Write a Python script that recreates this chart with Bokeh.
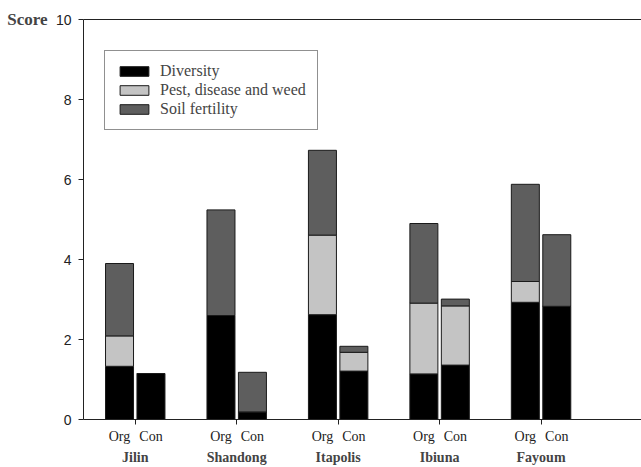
from bokeh.plotting import figure
from bokeh.models import (Range1d, LinearAxis, FixedTicker, CustomJSTickFormatter,
                          Legend, LegendItem, ColumnDataSource)
from bokeh.transform import dodge
from bokeh.embed import file_html
from bokeh.resources import INLINE

sites = ["Jilin", "Shandong", "Itapolis", "Ibiuna", "Fayoum"]
positions = [1, 2, 3, 4, 5]
components = ["Diversity", "Pest, disease and weed", "Soil fertility"]

org_diversity = [1.33, 2.60, 2.62, 1.14, 2.93]
org_pest = [0.76, 0.00, 1.99, 1.77, 0.52]
org_soil = [1.81, 2.64, 2.12, 1.99, 2.43]

con_diversity = [1.15, 0.19, 1.21, 1.36, 2.83]
con_pest = [0.00, 0.00, 0.47, 1.48, 0.00]
con_soil = [0.00, 0.99, 0.15, 0.17, 1.79]

y_ticks = [0, 2, 4, 6, 8, 10]

colors = ["#000000", "#c4c4c4", "#5e5e5e"]
SERIF = "Liberation Serif"
SANS = "Liberation Sans"

OFF = 0.155
BAR_W = 0.276

src_org = ColumnDataSource(dict(pos=positions, d=org_diversity, p=org_pest, s=org_soil))
src_con = ColumnDataSource(dict(pos=positions, d=con_diversity, p=con_pest, s=con_soil))

p = figure(width=641, height=467,
           x_range=Range1d(0.49, 5.99), y_range=Range1d(0, 10),
           output_backend="svg", toolbar_location=None,
           x_axis_location=None, y_axis_location=None,
           min_border_left=83, min_border_right=0, min_border_top=19, min_border_bottom=47)
p.xgrid.visible = False
p.ygrid.visible = False
p.outline_line_color = None
p.background_fill_color = "white"

org_r = p.vbar_stack(["d", "p", "s"], x=dodge("pos", -OFF), width=BAR_W, source=src_org,
                     color=colors, line_color="#1a1a1a", line_width=1)
con_r = p.vbar_stack(["d", "p", "s"], x=dodge("pos", OFF), width=BAR_W, source=src_con,
                     color=colors, line_color="#1a1a1a", line_width=1)

# y axis
yax = LinearAxis(ticker=FixedTicker(ticks=y_ticks))
yax.major_tick_out = 5
yax.major_tick_in = 0
yax.minor_tick_line_color = None
yax.axis_line_color = "#222222"
yax.major_tick_line_color = "#222222"
yax.major_label_text_font = SANS
yax.major_label_text_font_size = "14px"
yax.major_label_text_color = "#222222"
yax.major_label_standoff = 7
yax.axis_label_standoff = 0
p.add_layout(yax, "left")

score = LinearAxis(ticker=FixedTicker(ticks=[10]),
                   formatter=CustomJSTickFormatter(code="return 'Score';"))
score.axis_line_color = None
score.major_tick_line_color = None
score.minor_tick_line_color = None
score.major_tick_out = 0
score.major_tick_in = 0
score.major_label_text_font = SERIF
score.major_label_text_font_style = "bold"
score.major_label_text_font_size = "17px"
score.major_label_standoff = 5
score.axis_label_standoff = 0
p.add_layout(score, "left")

# top line
top = LinearAxis(ticker=FixedTicker(ticks=[]))
top.axis_line_color = "#222222"
top.major_tick_line_color = None
top.minor_tick_line_color = None
top.major_tick_out = 0
top.major_tick_in = 0
top.major_label_text_font_size = "0px"
top.axis_label_standoff = 0
p.add_layout(top, "above")

# bottom axis: Org / Con
sub_ticks = [x - OFF for x in positions] + [x + OFF for x in positions]
xax = LinearAxis(ticker=FixedTicker(ticks=sub_ticks, minor_ticks=positions),
                 formatter=CustomJSTickFormatter(
                     code="return (tick - Math.floor(tick)) > 0.5 ? 'Org' : 'Con';"))
xax.axis_line_color = "#222222"
xax.major_tick_line_color = None
xax.major_tick_out = 0
xax.major_tick_in = 0
xax.minor_tick_line_color = "#222222"
xax.minor_tick_out = 5
xax.minor_tick_in = 0
xax.major_label_text_font = SERIF
xax.major_label_text_font_size = "14px"
xax.major_label_text_color = "#222222"
xax.major_label_standoff = 4
xax.axis_label_standoff = 0
p.add_layout(xax, "below")

names = LinearAxis(ticker=FixedTicker(ticks=positions),
                   formatter=CustomJSTickFormatter(args=dict(names=sites),
                                                   code="return names[Math.round(tick) - 1];"))
names.axis_line_color = None
names.major_tick_line_color = None
names.minor_tick_line_color = None
names.major_tick_out = 0
names.major_tick_in = 0
names.major_label_text_font = SERIF
names.major_label_text_font_style = "bold"
names.major_label_text_font_size = "14px"
names.major_label_standoff = 3
names.axis_label_standoff = 0
p.add_layout(names, "below")

legend = Legend(items=[LegendItem(label=components[i], renderers=[org_r[i]]) for i in range(3)],
                location=(21, 289))
legend.border_line_color = "#222222"
legend.border_line_width = 1
legend.background_fill_alpha = 1
legend.glyph_width = 36
legend.glyph_height = 12
legend.label_height = 12
legend.label_standoff = 8
legend.label_text_font = SERIF
legend.label_text_font_size = "16px"
legend.padding = 11
legend.spacing = 1
legend.margin = 0
p.add_layout(legend, "center")

open("out.html", "w").write(file_html(p, INLINE))
